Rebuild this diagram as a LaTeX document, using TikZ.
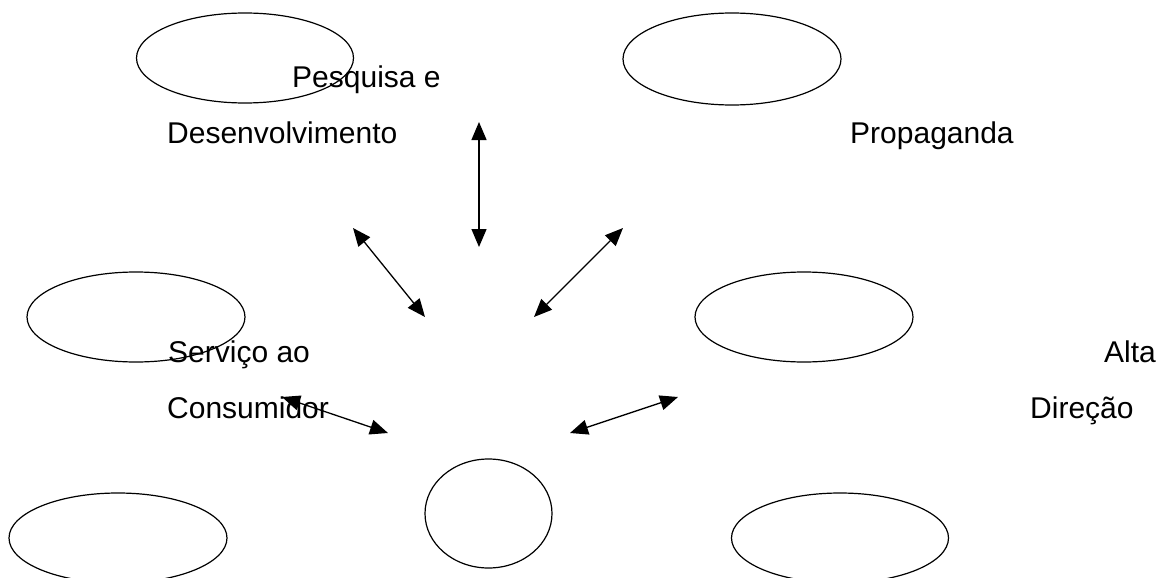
\documentclass[tikz,border=0pt]{standalone}
\usepackage{fontspec}
\setmainfont{Liberation Sans}
\usetikzlibrary{shapes.geometric,arrows.meta}
\tikzset{
  oval/.style={draw=black, line width=1.2pt, ellipse, inner sep=0pt},
  lbl/.style={anchor=base west, inner sep=0pt, font=\fontsize{30}{31}\selectfont},
  tip/.tip={Triangle[length=18pt,width=15pt]},
  dblarrow/.style={line width=1.3pt, tip-tip}
}
\begin{document}
\begin{tikzpicture}[x=1pt,y=-1pt]
\useasboundingbox (0,0) rectangle (1167,578);
% ellipses
\node[oval, minimum width=217pt, minimum height=90pt] (e1) at (245,58) {};
\node[oval, minimum width=218pt, minimum height=92pt] (e2) at (732,59) {};
\node[oval, minimum width=218pt, minimum height=90pt] (e3) at (136,317) {};
\node[oval, minimum width=218pt, minimum height=90pt] (e4) at (804,317) {};
\node[oval, minimum width=218pt, minimum height=90pt] (e5) at (118,538) {};
\node[oval, minimum width=217pt, minimum height=90pt] (e6) at (840,538) {};
\node[oval, minimum width=127pt, minimum height=109pt] (c) at (488.5,513.5) {};
% labels
\node[lbl] (t1) at (292,87) {Pesquisa e};
\node[lbl] (t2) at (167,143) {Desenvolvimento};
\node[lbl] (t3) at (850,143) {Propaganda};
\node[lbl] (t4) at (168,362) {Serviço ao};
\node[lbl] (t5) at (167,418) {Consumidor};
\node[lbl] (t6) at (1104,362) {Alta};
\node[lbl] (t7) at (1030,418) {Direção};
% arrow endpoints
\coordinate (a1s) at (479,122); \coordinate (a1e) at (479,247);
\coordinate (a2s) at (353,228); \coordinate (a2e) at (425,317);
\coordinate (a3s) at (623,228); \coordinate (a3e) at (534,317);
\coordinate (a4s) at (282,397); \coordinate (a4e) at (388,433);
\coordinate (a5s) at (678,397); \coordinate (a5e) at (570,433);
\draw[dblarrow] (a1s) -- (a1e);
\draw[dblarrow] (a2s) -- (a2e);
\draw[dblarrow] (a3s) -- (a3e);
\draw[dblarrow] (a4s) -- (a4e);
\draw[dblarrow] (a5s) -- (a5e);
\end{tikzpicture}
\end{document}
